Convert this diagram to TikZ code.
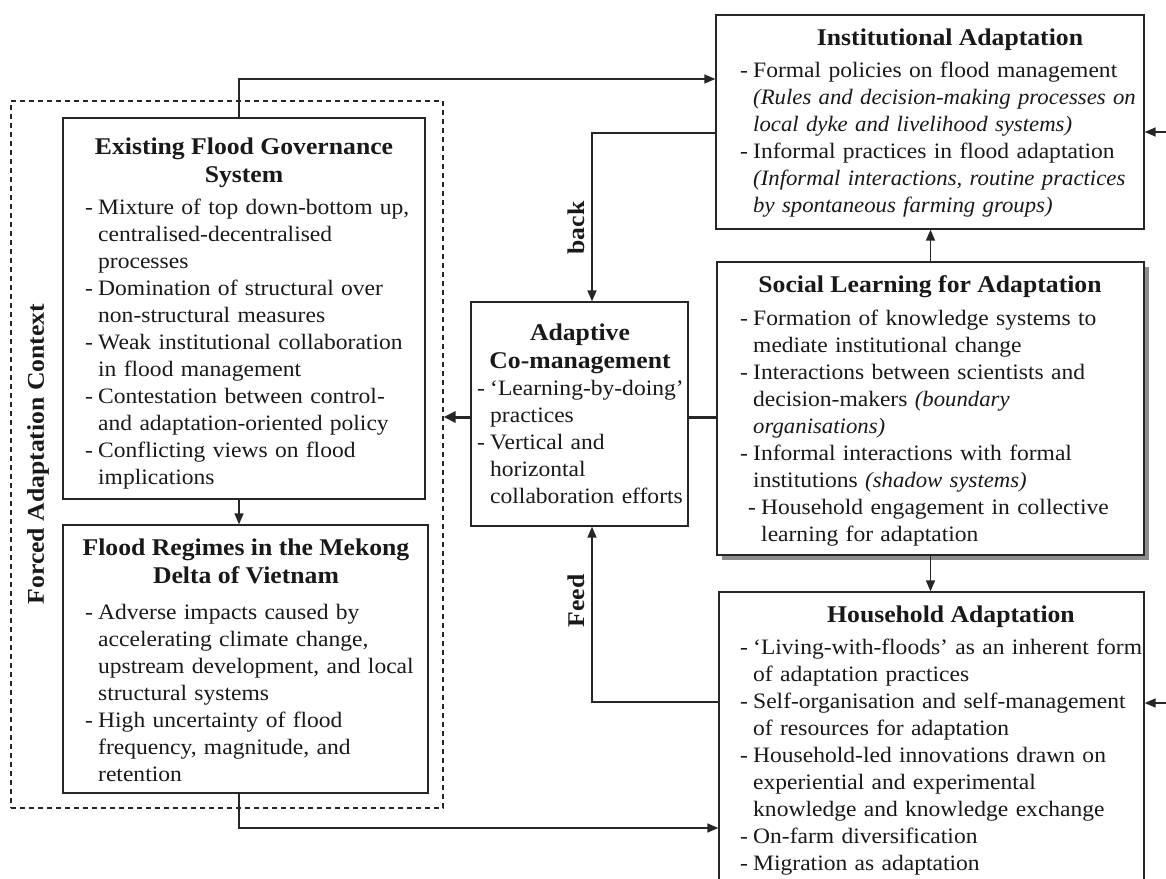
\documentclass[tikz,border=0pt]{standalone}
\usepackage{fontspec}
\setmainfont{Liberation Serif}[FakeStretch=1.07,
  ItalicFeatures={FakeStretch=1.035}, BoldItalicFeatures={FakeStretch=1.035}]
\usetikzlibrary{arrows.meta,calc,shadows}

\newcommand\bodyfont{\fontsize{22}{27}\selectfont}
\newcommand\headfont{\fontsize{24}{28}\selectfont\bfseries}
% bulleted item with hanging indent; lines inside an item are broken with \newline
\newcommand\bl[1]{\par\noindent\hangindent=13pt\hangafter=1\strut\makebox[13pt][l]{-}#1\par}
\newcommand\bli[1]{\par\noindent\hangindent=21pt\hangafter=1\strut\hspace*{8pt}\makebox[13pt][l]{-}#1\par}

\begin{document}
\begin{tikzpicture}[x=1pt,y=-1pt,
  box/.style={draw=black!85, line width=1.3pt, fill=white, inner sep=0pt},
  ctxbox/.style={draw=black!85, line width=1.2pt, dash pattern=on 5pt off 4pt, inner sep=0pt},
  slbox/.style={box, line width=2.2pt,
    drop shadow={shadow xshift=5pt, shadow yshift=-5pt, fill=black!45, opacity=1}},
  body/.style={font=\bodyfont, align=left, text width=420pt, inner sep=0pt, anchor=north west, text=black!90},
  head/.style={font=\headfont, align=center, inner sep=0pt, anchor=north, text=black!90},
  lbl/.style={font=\headfont, rotate=90, inner sep=0pt, text=black!90},
  arr/.style={draw=black!85, line width=1.5pt, -{Triangle[length=11pt,width=9pt]}},
  link/.style={draw=black!85, line width=3pt},
  boldarr/.style={link, -{Triangle[length=12pt,width=11pt]}}
]
\clip (0,0) rectangle (1166,878);

% forced adaptation context
\node[ctxbox, minimum width=432pt, minimum height=707pt] (ctx) at (227,454.5) {};
\node[lbl] (ctxL) at (38,454) {Forced Adaptation Context};

% boxes
\node[box, minimum width=362pt, minimum height=381pt] (ex) at (244,308.5) {};
\node[box, minimum width=365pt, minimum height=268pt] (fl) at (245.5,659) {};
\node[box, minimum width=428pt, minimum height=214pt] (inst) at (930,122) {};
\node[slbox, minimum width=427pt, minimum height=293pt] (sl) at (930.5,408.5) {};
\node[box, minimum width=217pt, minimum height=224pt] (ad) at (579.5,414) {};
\node[box, minimum width=425pt, minimum height=308pt] (hh) at (931.5,746) {};

% existing flood governance system
\node[head] (exH) at (244,135) {\strut Existing Flood Governance\\System};
\node[body] (exT) at (85,187) {%
\bl{Mixture of top down-bottom up,\newline centralised-decentralised\newline processes}
\bl{Domination of structural over\newline non-structural measures}
\bl{Weak institutional collaboration\newline in flood management}
\bl{Contestation between control-\newline and adaptation-oriented policy}
\bl{Conflicting views on flood\newline implications}};

% flood regimes
\node[head] (flH) at (246,536) {\strut Flood Regimes in the Mekong\\Delta of Vietnam};
\node[body] (flT) at (85,592) {%
\bl{Adverse impacts caused by\newline accelerating climate change,\newline upstream development, and local\newline structural systems}
\bl{High uncertainty of flood\newline frequency, magnitude, and\newline retention}};

% institutional adaptation
\node[head] (instH) at (950,26) {\strut Institutional Adaptation};
\node[body] (instT) at (740,50) {%
\bl{Formal policies on flood management\newline {\itshape (Rules and decision-making processes on\newline local dyke and livelihood systems)}}
\bl{Informal practices in flood adaptation\newline {\itshape (Informal interactions, routine practices\newline by spontaneous farming groups)}}};

% social learning
\node[head] (slH) at (930,273) {\strut Social Learning for Adaptation};
\node[body] (slT) at (740,298) {%
\bl{Formation of knowledge systems to\newline mediate institutional change}
\bl{Interactions between scientists and\newline decision-makers {\itshape (boundary\newline organisations)}}
\bl{Informal interactions with formal\newline institutions {\itshape (shadow systems)}}
\bli{Household engagement in collective\newline learning for adaptation}};

% adaptive co-management
\node[head] (adH) at (580,321) {\strut Adaptive\\Co-management};
\node[body] (adT) at (477,368) {%
\bl{‘Learning-by-doing’\newline practices}
\bl{Vertical and\newline horizontal\newline collaboration efforts}};

% household adaptation
\node[head] (hhH) at (951,603) {\strut Household Adaptation};
\node[body] (hhT) at (740,627) {%
\bl{‘Living-with-floods’ as an inherent form\newline of adaptation practices}
\bl{Self-organisation and self-management\newline of resources for adaptation}
\bl{Household-led innovations drawn on\newline experiential and experimental\newline knowledge and knowledge exchange}
\bl{On-farm diversification}
\bl{Migration as adaptation}};

% connectors
\draw[arr] ($(ex.north)+(-5,0)$) |- ($(inst.west)+(0,-43)$);
\draw[arr] ($(inst.west)+(0,11)$) -| ($(ad.north)+(12.5,0)$);
\draw[arr] (sl.north) -- (sl.north |- inst.south);
\draw[arr] (sl.south) -- (sl.south |- hh.north);
\draw[arr] ($(hh.west)+(0,-44)$) -| ($(ad.south)+(12.5,0)$);
\draw[arr] ($(fl.south)+(-6.5,0)$) |- ($(hh.west)+(0,82)$);
\draw[arr] ($(ex.south)+(-5,0)$) -- ($(fl.north)+(-6.5,0)$);

\coordinate (adL) at ($(ad.west)+(0,3)$);
\draw[link] ($(sl.west)+(0,8.5)$) -- ($(ad.east)+(0,3)$);
\draw[boldarr] (adL) -- (adL -| ctx.east);

\coordinate (rIn) at (1166,132);
\coordinate (rHh) at (1166,703);
\draw[arr] (rIn) -- (rIn -| inst.east);
\draw[arr] (rHh) -- (rHh -| hh.east);

% loop labels
\node[lbl] (back) at (576,228) {back};
\node[lbl] (feed) at (576,601) {Feed};
\end{tikzpicture}
\end{document}
